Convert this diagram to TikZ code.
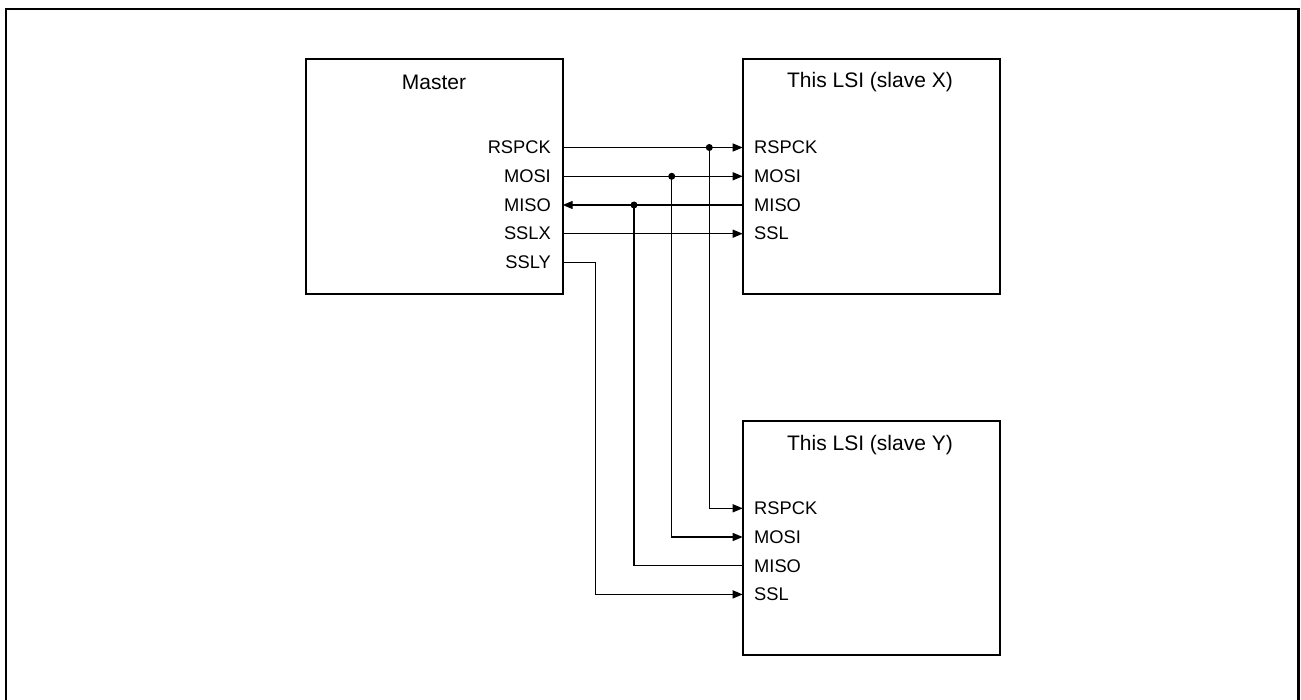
\documentclass[tikz,border=0pt]{standalone}
\usepackage{fontspec}
\setmainfont{Liberation Sans}
\usetikzlibrary{arrows.meta}
\begin{document}
\begin{tikzpicture}[x=1pt,y=-1pt,
  box/.style={draw, line width=1.8pt, minimum width=257pt, inner sep=0pt},
  lbl/.style={font=\fontsize{18.3}{20}\selectfont, inner sep=0pt},
  ttl/.style={font=\fontsize{21}{24}\selectfont, inner sep=0pt},
  wire/.style={line width=1.3pt},
  sig/.style={wire, -{Triangle[length=10pt,width=8pt]}},
  jdot/.style={circle, fill, inner sep=0pt, minimum size=7pt}]
\useasboundingbox (0,0) rectangle (1301,700);
\draw[line width=2.2pt] (6,712) -- (6,9) -- (1298.5,9) -- (1298.5,712);
% boxes
\node[box, minimum height=235pt] (master) at (434.2,176.5) {};
\node[box, minimum height=235pt] (slx) at (871.1,176.5) {};
\node[box, minimum height=234pt] (sly) at (871.1,538) {};
% titles
\node[ttl] (tm) at (434,82) {Master};
\node[ttl] (tx) at (870,82) {This LSI (slave X)};
\node[ttl] (ty) at (870,445) {This LSI (slave Y)};
% pin coordinates
\coordinate (mR) at (562.7,147.5);
\coordinate (mMO) at (562.7,176.3);
\coordinate (mMI) at (562.7,205.0);
\coordinate (mSX) at (562.7,233.7);
\coordinate (mSY) at (562.7,262.4);
\coordinate (xR) at (742.7,147.5);
\coordinate (xMO) at (742.7,176.3);
\coordinate (xMI) at (742.7,205.0);
\coordinate (xS) at (742.7,233.7);
\coordinate (yR) at (742.7,508.3);
\coordinate (yMO) at (742.7,537.0);
\coordinate (yMI) at (742.7,565.7);
\coordinate (yS) at (742.7,594.4);
% pin labels
\node[lbl, anchor=east] (lmR) at (551,147.5) {RSPCK};
\node[lbl, anchor=east] (lmMO) at (551,176.3) {MOSI};
\node[lbl, anchor=east] (lmMI) at (551,205.0) {MISO};
\node[lbl, anchor=east] (lmSX) at (551,233.7) {SSLX};
\node[lbl, anchor=east] (lmSY) at (551,262.4) {SSLY};
\node[lbl, anchor=west] (lxR) at (754,147.5) {RSPCK};
\node[lbl, anchor=west] (lxMO) at (754,176.3) {MOSI};
\node[lbl, anchor=west] (lxMI) at (754,205.0) {MISO};
\node[lbl, anchor=west] (lxS) at (754,233.7) {SSL};
\node[lbl, anchor=west] (lyR) at (754,508.3) {RSPCK};
\node[lbl, anchor=west] (lyMO) at (754,537.0) {MOSI};
\node[lbl, anchor=west] (lyMI) at (754,565.7) {MISO};
\node[lbl, anchor=west] (lyS) at (754,594.4) {SSL};
% junctions
\node[jdot] (dR) at (709.3,147.5) {};
\node[jdot] (dMO) at (671.7,176.3) {};
\node[jdot] (dMI) at (634.0,205.0) {};
\coordinate (bY) at (595.3,262.4);
% wires
\draw[sig] (mR) -- (xR);
\draw[sig] (mMO) -- (xMO);
\draw[sig] (xMI) -- (mMI);
\draw[sig] (mSX) -- (xS);
\draw[sig] (dR.center) |- (yR);
\draw[sig] (dMO.center) |- (yMO);
\draw[wire] (yMI) -| (dMI.center);
\draw[sig] (mSY) -- (bY) |- (yS);
\end{tikzpicture}
\end{document}
